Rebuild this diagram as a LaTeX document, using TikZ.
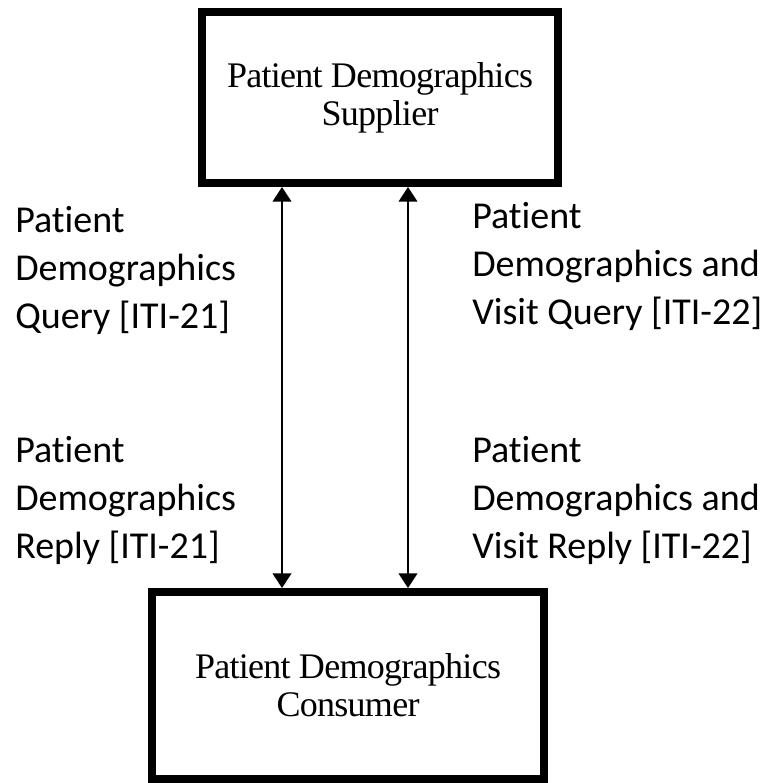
\documentclass[tikz,border=0pt]{standalone}
\usepackage{fontspec}
\setmainfont{Liberation Serif}[LetterSpace=-2]
\newfontfamily\labelfont{Carlito}[Ligatures=NoCommon]
\usetikzlibrary{arrows.meta}

\begin{document}
\begin{tikzpicture}[x=0.75pt, y=-0.75pt,
    actor/.style={draw, line width=6pt, inner sep=0pt, align=center,
        font=\fontsize{27pt}{28.5pt}\selectfont},
    msg/.style={inner sep=0pt, align=left, anchor=west,
        font=\labelfont\fontsize{28.5pt}{36pt}\selectfont},
    flow/.style={{Triangle[width=14pt,length=11pt]}-{Triangle[width=14pt,length=11pt]}, line width=1.5pt}]
    \useasboundingbox (0,0) rectangle (771,783);
    % actors
    \node[actor, minimum width=267pt, minimum height=128.25pt] (sup) at (380,97.5)
        {Patient Demographics\\Supplier};
    \node[actor, minimum width=294pt, minimum height=140.25pt] (con) at (348,685.5)
        {Patient Demographics\\Consumer};
    % arrow positions
    \coordinate (a) at (282,0);
    \coordinate (b) at (408,0);
    \draw[flow] (sup.south -| a) -- (con.north -| a);
    \draw[flow] (sup.south -| b) -- (con.north -| b);
    % transaction labels
    \node[msg] (q21) at (15,270) {Patient\\Demographics\\Query [ITI-21]};
    \node[msg] (q22) at (472,266) {Patient\\Demographics and\\Visit Query [ITI-22]};
    \node[msg] (r21) at (15,500) {Patient\\Demographics\\Reply [ITI-21]};
    \node[msg] (r22) at (472,500) {Patient\\Demographics and\\Visit Reply [ITI-22]};
\end{tikzpicture}
\end{document}
